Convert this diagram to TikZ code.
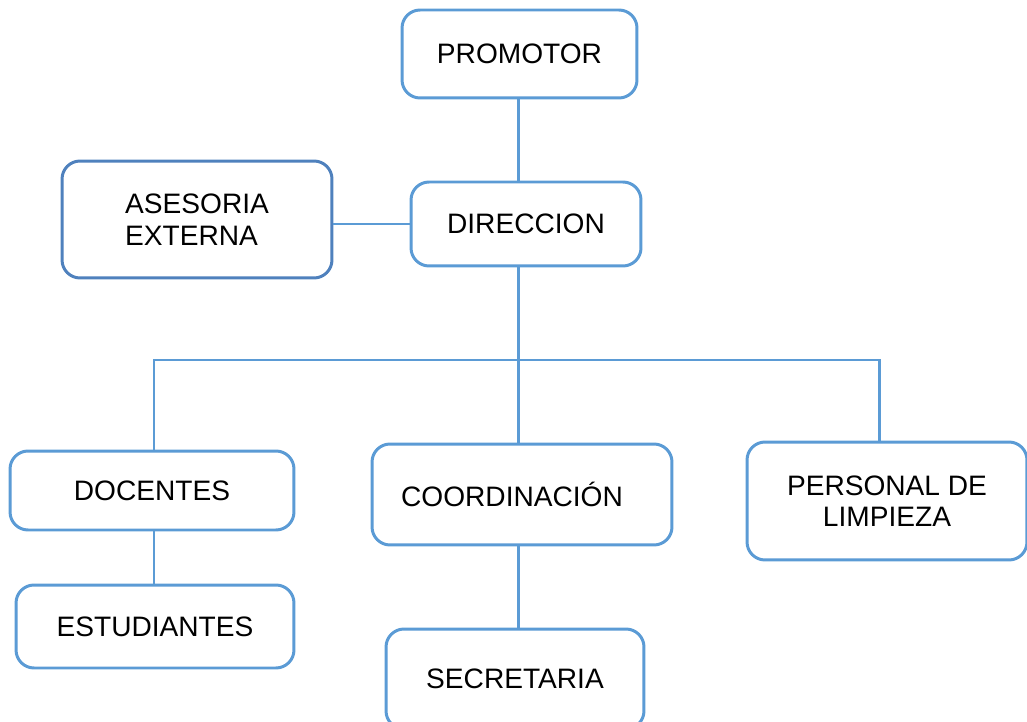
\documentclass[tikz,border=0pt]{standalone}
\usepackage{fontspec}
\setmainfont{Liberation Sans}
\usetikzlibrary{positioning}
\definecolor{orgblue}{HTML}{5B9BD5}
\definecolor{orgdark}{HTML}{4F81BD}

\begin{document}
\begin{tikzpicture}[
      x=0.02cm, y=-0.02cm,
      every node/.style = {rectangle, rounded corners=0.36cm, draw=orgblue, line width=1.7pt,
                           fill=white, inner sep=0pt, align=center,
                           font=\fontsize{16}{18}\selectfont},
      link/.style       = {draw=orgblue, line width=1.7pt}
    ]
    \path[use as bounding box, clip] (0,0) rectangle (1027,722);
    \coordinate (bus)  at (518,360);
    \coordinate (busL) at (154,360);
    \coordinate (busR) at (879,360);
    % upper part
    \node[minimum width=4.7cm, minimum height=1.76cm] (prom) at (519.5,54) {PROMOTOR};
    \node[minimum width=4.6cm, minimum height=1.68cm] (dir) at (526,224) {DIRECCION};
    \node[draw=orgdark, align=left, minimum width=5.4cm, minimum height=2.34cm] (ases) at (197,219.5) {ASESORIA\\EXTERNA};
    % lower part
    \node[minimum width=5.68cm, minimum height=1.58cm] (doc) at (152,490.5) {DOCENTES};
    \node[minimum width=6cm, minimum height=2.02cm] (coord) at (522,494.5) {COORDINACIÓN\hspace{0.4cm}};
    \node[minimum width=5.6cm, minimum height=2.36cm] (pers) at (887,501) {PERSONAL DE\\LIMPIEZA};
    \node[minimum width=5.56cm, minimum height=1.66cm] (est) at (155,626.5) {ESTUDIANTES};
    \node[minimum width=5.16cm, minimum height=2cm] (sec) at (515,679) {SECRETARIA};
    % connectors
    \draw[link] (prom.south -| bus) -- (bus |- dir.north);
    \draw[link] (ases.east |- dir) -- (dir.west);
    \draw[link] (bus |- dir.south) -- (bus);
    \draw[link] (busL |- doc.north) -- (busL) -- (busR) -- (busR |- pers.north);
    \draw[link] (bus) -- (bus |- coord.north);
    \draw[link] (busL |- doc.south) -- (busL |- est.north);
    \draw[link] (bus |- coord.south) -- (bus |- sec.north);
\end{tikzpicture}
\end{document}
